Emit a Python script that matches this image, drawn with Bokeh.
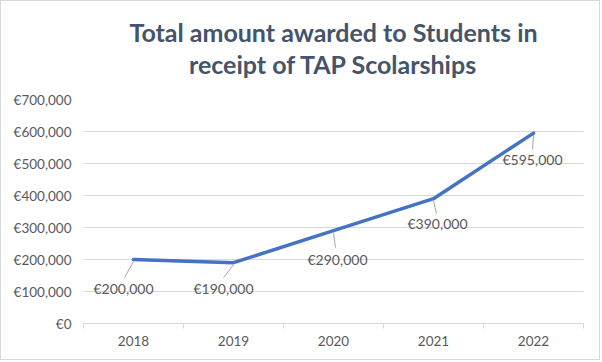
from bokeh.plotting import figure
from bokeh.models import FixedTicker, Title, ColumnDataSource
from bokeh.core.properties import value
from bokeh.embed import file_html
from bokeh.resources import INLINE

years = ["2018", "2019", "2020", "2021", "2022"]
amounts = [200000, 190000, 290000, 390000, 595000]
value_labels = ["€200,000", "€190,000", "€290,000", "€390,000", "€595,000"]
y_ticks = [0, 100000, 200000, 300000, 400000, 500000, 600000, 700000]
y_tick_labels = ["€0", "€100,000", "€200,000", "€300,000", "€400,000", "€500,000", "€600,000", "€700,000"]
title_lines = ["Total amount awarded to Students in", "receipt of TAP Scolarships"]

# label placement (pixels, screen: +dy downward)
label_dx = [-10, -10, 4, 4, -1]
label_dy = [29, 26, 29, 25, 26]
leader_dx = [-9, -10, 2, 3, -1]
leader_dy = [18, 15, 17, 15, 16]

FONT = "Lato"
W, H = 600, 360
BL, BR, BT, BB = 82, 18, 98, 38
frame_w = W - BL - BR
frame_h = H - BT - BB
x_lo, x_hi = -0.5, 4.5
y_lo, y_hi = 0, 700000
xs_per_px = (x_hi - x_lo) / frame_w
ys_per_px = (y_hi - y_lo) / frame_h

xpos = list(range(len(years)))

p = figure(width=W, height=H, output_backend="svg", toolbar_location=None,
           x_range=(x_lo, x_hi), y_range=(y_lo, y_hi),
           min_border_left=BL, min_border_right=BR, min_border_top=BT, min_border_bottom=BB,
           tools="")
p.styles = {"border": "1px solid #d9d9d9"}
p.outline_line_color = None
p.background_fill_color = "white"
p.border_fill_color = "white"
p.title = None

# titles: spacer (closest to plot), second line, first line
spacer = Title(text=".", align="center", text_font=FONT, text_font_size="26px",
               text_color="white", standoff=0, offset=0)
t2 = Title(text=title_lines[1], align="center", text_font=FONT, text_font_size="25px",
           text_font_style="bold", text_color="#44546A", standoff=0, offset=0,
           text_line_height=1.12)
t1 = Title(text=title_lines[0], align="center", text_font=FONT, text_font_size="25px",
           text_font_style="bold", text_color="#44546A", standoff=0, offset=0,
           text_line_height=1.12)
p.add_layout(spacer, "above")
p.add_layout(t2, "above")
p.add_layout(t1, "above")

# grid
p.xgrid.grid_line_color = None
p.ygrid.grid_line_color = "#d9d9d9"
p.ygrid.grid_line_width = 1
p.ygrid.ticker = FixedTicker(ticks=y_ticks)

# y axis
p.yaxis.ticker = FixedTicker(ticks=y_ticks)
p.yaxis.major_label_overrides = {t: l for t, l in zip(y_ticks, y_tick_labels)}
p.yaxis.axis_line_color = None
p.yaxis.major_tick_line_color = None
p.yaxis.minor_tick_line_color = None
p.yaxis.major_label_text_font = FONT
p.yaxis.major_label_text_font_size = "13.5px"
p.yaxis.major_label_text_color = "#595959"
p.yaxis.major_label_standoff = 6

# x axis
bounds = [i - 0.5 for i in range(len(years) + 1)]
p.xaxis.ticker = FixedTicker(ticks=xpos, minor_ticks=bounds)
p.xaxis.major_label_overrides = {i: y for i, y in zip(xpos, years)}
p.xaxis.axis_line_color = "#d9d9d9"
p.xaxis.major_tick_line_color = None
p.xaxis.minor_tick_line_color = "#d9d9d9"
p.xaxis.minor_tick_in = 0
p.xaxis.minor_tick_out = 5
p.xaxis.major_tick_out = 0
p.xaxis.major_tick_in = 0
p.xaxis.major_label_text_font = FONT
p.xaxis.major_label_text_font_size = "13.5px"
p.xaxis.major_label_text_color = "#595959"
p.xaxis.major_label_standoff = 7

# leader lines
x0 = [x for x in xpos]
y0 = [a - 2 * ys_per_px for a in amounts]
x1 = [x + dx * xs_per_px for x, dx in zip(xpos, leader_dx)]
y1 = [a - dy * ys_per_px for a, dy in zip(amounts, leader_dy)]
p.segment(x0=x0, y0=y0, x1=x1, y1=y1, line_color="#a6a6a6", line_width=1)

# line
p.line(xpos, amounts, line_color="#4472C4", line_width=3.5, line_join="round", line_cap="round")

# labels
src = ColumnDataSource(dict(x=xpos, y=amounts, t=value_labels,
                            xo=label_dx, yo=label_dy))
p.text(x="x", y="y", text="t", x_offset="xo", y_offset="yo", source=src,
       text_align="center", text_baseline="middle",
       text_font=value(FONT), text_font_size="14px", text_color="#595959")

open("out.html", "w").write(file_html(p, INLINE))
